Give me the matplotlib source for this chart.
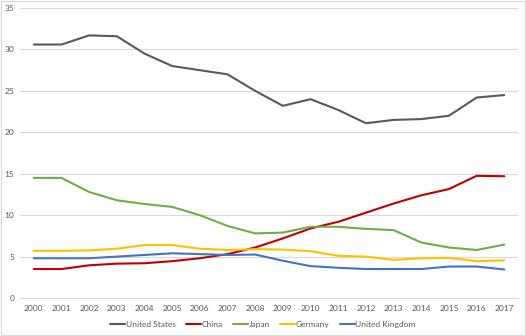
import matplotlib.pyplot as plt
from matplotlib.patches import Rectangle

# _____DATA_____
years = [str(y) for y in range(2000, 2018)]
united_states = [30.6, 30.6, 31.7, 31.6, 29.5, 28.0, 27.5, 27.0, 25.0, 23.2, 24.0, 22.7,
                 21.1, 21.5, 21.6, 22.0, 24.2, 24.5]
china = [3.5, 3.5, 3.95, 4.15, 4.2, 4.45, 4.8, 5.3, 6.1, 7.2, 8.4, 9.2,
         10.3, 11.4, 12.4, 13.15, 14.75, 14.7]
japan = [14.5, 14.5, 12.8, 11.8, 11.35, 11.0, 10.0, 8.7, 7.8, 7.9, 8.6, 8.6,
         8.35, 8.2, 6.7, 6.1, 5.8, 6.45]
germany = [5.7, 5.7, 5.75, 5.95, 6.4, 6.4, 5.95, 5.8, 5.9, 5.85, 5.65, 5.1,
           5.0, 4.6, 4.8, 4.85, 4.45, 4.55]
united_kingdom = [4.8, 4.8, 4.8, 5.0, 5.2, 5.4, 5.3, 5.2, 5.25, 4.5, 3.85, 3.65,
                  3.5, 3.5, 3.5, 3.8, 3.8, 3.45]

series = [
    ('United States', united_states, '#595959'),
    ('China', china, '#c00000'),
    ('Japan', japan, '#70ad47'),
    ('Germany', germany, '#ffc000'),
    ('United Kingdom', united_kingdom, '#4472c4'),
]

text_color = '#595959'
plt.rcParams['font.family'] = ['Lato', 'DejaVu Sans']

# create figure
fig = plt.figure(figsize=(5.26, 3.36), dpi=100)
ax = fig.add_axes([0.038, 0.113, 0.947, 0.863])

# plot traces
x = list(range(len(years)))
for name, values, color in series:
    ax.plot(x, values, color=color, linewidth=1.5, label=name, solid_capstyle='round')

# customise axes
ax.set_xlim(-0.5, len(years) - 0.5)
ax.set_ylim(0, 35)
ax.set_yticks(range(0, 36, 5))
ax.set_xticks(x)
ax.set_xticklabels(years)
ax.grid(axis='y', color='#d9d9d9', linewidth=0.8)
ax.set_axisbelow(True)
for side in ['top', 'right', 'left']:
    ax.spines[side].set_visible(False)
ax.spines['bottom'].set_color('#d9d9d9')
ax.tick_params(axis='both', length=0, labelsize=6, colors=text_color)
ax.tick_params(axis='y', pad=4)
ax.tick_params(axis='x', pad=5)

# legend
leg = fig.legend(loc='center', bbox_to_anchor=(0.5, 0.035), ncol=5, frameon=False,
                 fontsize=6, handlelength=1.8, handletextpad=0.1, columnspacing=1.2)
for text in leg.get_texts():
    text.set_color(text_color)

# figure border
fig.patches.append(Rectangle((0.002, 0.002), 0.996, 0.996, transform=fig.transFigure,
                             fill=False, edgecolor='#d9d9d9', linewidth=0.8))

plt.savefig('out.png', dpi=100)
plt.close('all')
